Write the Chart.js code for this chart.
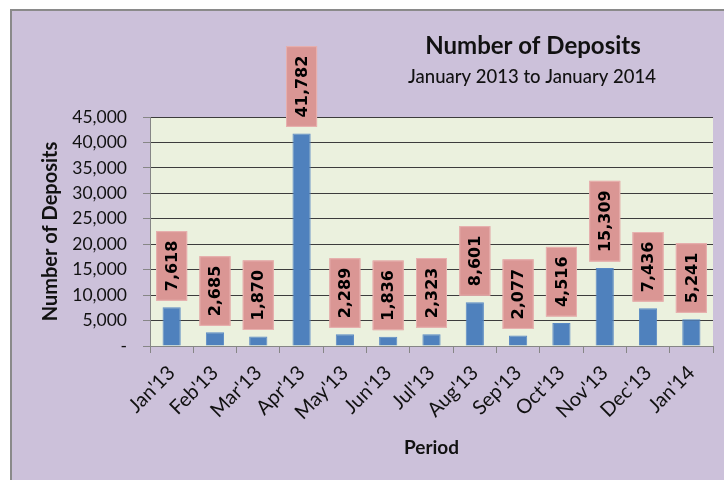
<!DOCTYPE html>
<html>
<head>
<meta charset="utf-8">
<script src="https://cdn.jsdelivr.net/npm/chart.js"></script>
<style>
  html, body { margin: 0; padding: 0; background: #ffffff; }
  #frame { position: absolute; left: 10px; top: 9px; width: 714px; height: 471px; background: #ccc1da; border-top: 2px solid #8a8a8a; border-left: 2px solid #8a8a8a; box-sizing: border-box; }
  #wrap { position: absolute; left: 0; top: 0; width: 724px; height: 480px; }
</style>
</head>
<body>
<div id="frame"></div>
<div id="wrap"><canvas id="chart" width="724" height="480"></canvas></div>
<script>
// data
const months = ["Jan'13", "Feb'13", "Mar'13", "Apr'13", "May'13", "Jun'13", "Jul'13", "Aug'13", "Sep'13", "Oct'13", "Nov'13", "Dec'13", "Jan'14"];
const deposits = [7618, 2685, 1870, 41782, 2289, 1836, 2323, 8601, 2077, 4516, 15309, 7436, 5241];
const yTicks = [0, 5000, 10000, 15000, 20000, 25000, 30000, 35000, 40000, 45000];

const chartTitle = 'Number of Deposits';
const chartSubtitle = 'January 2013 to January 2014';

const fmt = v => v.toLocaleString('en-US');

// plot background + titles
const decorPlugin = {
  id: 'decor',
  beforeDraw(chart) {
    const { ctx, chartArea: a } = chart;
    ctx.save();
    ctx.fillStyle = '#ebf1de';
    ctx.fillRect(a.left, a.top, a.right - a.left, a.bottom - a.top);
    ctx.fillStyle = '#111111';
    ctx.textAlign = 'center';
    ctx.textBaseline = 'middle';
    ctx.font = 'bold 24px Lato';
    ctx.fillText(chartTitle, 533, 46);
    ctx.font = '500 18.5px Lato';
    ctx.fillText(chartSubtitle, 532, 77);
    ctx.restore();
  }
};

// pink value boxes above each bar, text turned upright
const boxLabels = {
  id: 'boxLabels',
  afterDatasetsDraw(chart) {
    const { ctx } = chart;
    const meta = chart.getDatasetMeta(0);
    ctx.save();
    ctx.font = 'bold 16px "DejaVu Sans"';
    meta.data.forEach((bar, i) => {
      const txt = fmt(deposits[i]);
      const tw = ctx.measureText(txt).width;
      const h = tw + 19, w = 31;
      const bottom = bar.y - 6.5;
      const x0 = bar.x - w / 2;
      ctx.fillStyle = '#da9694';
      ctx.fillRect(x0, bottom - h, w, h);
      ctx.strokeStyle = '#e8b2b0';
      ctx.lineWidth = 1;
      ctx.strokeRect(x0 + 0.5, bottom - h + 0.5, w - 1, h - 1);
      ctx.save();
      ctx.translate(bar.x + 1, bottom - h / 2);
      ctx.rotate(-Math.PI / 2);
      ctx.fillStyle = '#000000';
      ctx.textAlign = 'center';
      ctx.textBaseline = 'middle';
      ctx.fillText(txt, 0, 0);
      ctx.restore();
    });
    ctx.restore();
  }
};

new Chart(document.getElementById('chart'), {
  type: 'bar',
  data: {
    labels: months,
    datasets: [{
      data: deposits,
      backgroundColor: '#4f81bd',
      borderColor: '#5a8ac4',
      borderWidth: 1,
      barPercentage: 0.42,
      categoryPercentage: 1
    }]
  },
  options: {
    responsive: false,
    animation: false,
    devicePixelRatio: 1,
    layout: { padding: { top: 117, right: 11, left: 0, bottom: 0 } },
    plugins: { legend: { display: false }, tooltip: { enabled: false }, title: { display: false } },
    scales: {
      x: {
        grid: { offset: true, drawOnChartArea: false, color: '#868686', tickLength: 7 },
        border: { color: '#868686', width: 1 },
        ticks: { minRotation: 45, maxRotation: 45, padding: 8, color: '#111111', font: { family: 'Lato', size: 20 } },
        title: { display: true, text: 'Period', color: '#111111', font: { family: 'Lato', size: 19, weight: 'bold' }, padding: { top: 0, bottom: 21 } },
        afterFit(scale) { scale.height = 134; }
      },
      y: {
        min: 0, max: 45000,
        afterBuildTicks(scale) { scale.ticks = yTicks.map(v => ({ value: v })); },
        grid: {
          color: ctx => ctx.tick && ctx.tick.value === 0 ? '#868686' : '#3c3c3c',
          tickColor: '#868686',
          tickLength: 7,
          lineWidth: 1
        },
        border: { color: '#868686', width: 1 },
        ticks: { padding: 16, color: '#111111', font: { family: 'Lato', size: 17.5 }, callback: v => v === 0 ? '-' : fmt(v) },
        title: { display: true, text: 'Number of Deposits', color: '#111111', font: { family: 'Lato', size: 20, weight: 'bold' }, padding: { top: 39, bottom: 0 } },
        afterFit(scale) { scale.width = 150; }
      }
    }
  },
  plugins: [decorPlugin, boxLabels]
});
</script>
</body>
</html>
